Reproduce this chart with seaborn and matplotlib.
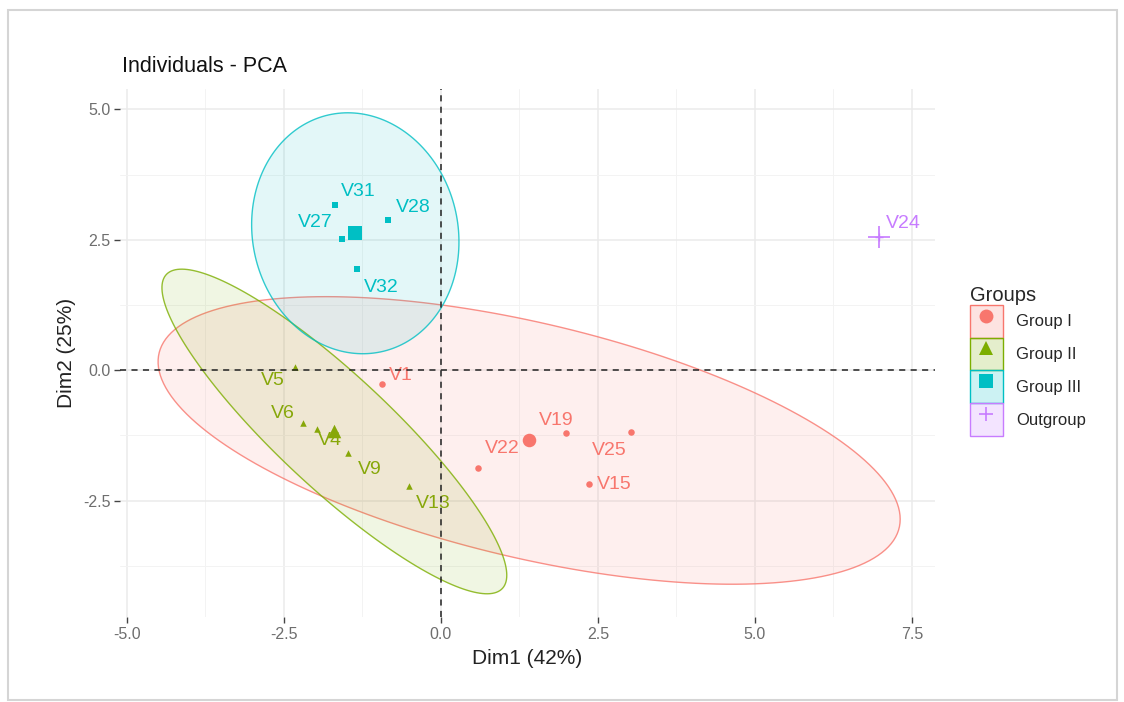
import numpy as np
import pandas as pd
import matplotlib
matplotlib.use("Agg")
import matplotlib.pyplot as plt
import seaborn as sns
from matplotlib.patches import Polygon, Patch, Rectangle
from matplotlib.lines import Line2D
from matplotlib.ticker import MultipleLocator, FormatStrFormatter
from matplotlib.colors import to_rgba

# individuals
names = ["V1", "V22", "V19", "V25", "V15",
         "V5", "V6", "V4", "V9", "V13",
         "V31", "V28", "V27", "V32",
         "V24"]
dim1 = [-0.94, 0.59, 1.99, 3.03, 2.36,
        -2.32, -2.20, -1.97, -1.48, -0.51,
        -1.69, -0.84, -1.58, -1.34,
        6.98]
dim2 = [-0.27, -1.87, -1.21, -1.19, -2.19,
        0.06, -1.02, -1.12, -1.58, -2.21,
        3.17, 2.87, 2.52, 1.94,
        2.55]
groups = ["Group I", "Group I", "Group I", "Group I", "Group I",
          "Group II", "Group II", "Group II", "Group II", "Group II",
          "Group III", "Group III", "Group III", "Group III",
          "Outgroup"]

group_order = ["Group I", "Group II", "Group III", "Outgroup"]
colors = ["#F8766D", "#7CAE00", "#00BFC4", "#C77CFF"]
markers = ["o", "^", "s", "+"]
palette = dict(zip(group_order, colors))

# label nudges in pixels (ggrepel-like placement)
label_nudge = {
    "V1": (19, 9), "V22": (24, 19), "V19": (-10, 13), "V25": (-22, -18), "V15": (25, 0),
    "V5": (-22, -13), "V6": (-20, 10), "V4": (13, -12), "V9": (22, -17), "V13": (24, -18),
    "V31": (24, 13), "V28": (25, 13), "V27": (-26, 16), "V32": (25, -18),
    "V24": (24, 14),
}

df = pd.DataFrame({"name": names, "Dim1": dim1, "Dim2": dim2, "Groups": groups})
centers = df.groupby("Groups", sort=False)[["Dim1", "Dim2"]].mean().reset_index()

sns.set_theme(style="white")
plt.rcParams["font.family"] = ["Liberation Sans", "DejaVu Sans"]

fig = plt.figure(figsize=(11.24, 7.02), dpi=100)
ax = fig.add_axes([120 / 1124, 1 - 617 / 702, 815 / 1124, 528 / 702])

for g, m, c in zip(group_order, markers, colors):
    sub = df[df["Groups"] == g]
    cen = centers[centers["Groups"] == g]
    if m == "+":
        ax.scatter(sub["Dim1"], sub["Dim2"], marker="+", s=40, color=c, linewidths=1.0, zorder=3)
        ax.scatter(cen["Dim1"], cen["Dim2"], marker="+", s=260, color=c, linewidths=1.2, zorder=4)
    else:
        # individual points
        sns.scatterplot(data=sub, x="Dim1", y="Dim2", marker=m, s=22, color=c,
                        linewidth=0, legend=False, ax=ax, zorder=3)
        # group mean
        sns.scatterplot(data=cen, x="Dim1", y="Dim2", marker=m, s=95, color=c,
                        linewidth=0, legend=False, ax=ax, zorder=4)

# point labels
for n, x, y, g in zip(names, dim1, dim2, groups):
    dx, dy = label_nudge[n]
    ax.annotate(n, (x, y), xytext=(dx, dy), textcoords="offset pixels",
                ha="center", va="center", fontsize=14, color=palette[g], zorder=5)

# normal-theory 95% ellipses like ggplot2::stat_ellipse(type = "norm")
t = np.linspace(0, 2 * np.pi, 200)
circle = np.column_stack([np.cos(t), np.sin(t)])
for g, c in zip(group_order, colors):
    pts = df.loc[df["Groups"] == g, ["Dim1", "Dim2"]].to_numpy()
    n = len(pts)
    if n < 3:
        continue
    cov = np.cov(pts.T)
    d2 = n - 1
    fq = (d2 / 2) * (0.05 ** (-2 / d2) - 1)  # F(0.95; 2, n-1)
    radius = np.sqrt(2 * fq)
    chol = np.linalg.cholesky(cov)
    ell = pts.mean(axis=0) + radius * circle @ chol.T
    ax.add_patch(Polygon(ell, closed=True, facecolor=to_rgba(c, 0.11),
                         edgecolor=to_rgba(c, 0.8), linewidth=1.0, zorder=6))

ax.axhline(0, color="#222222", linestyle=(0, (4, 3.5)), linewidth=1.1, zorder=7)
ax.axvline(0, color="#222222", linestyle=(0, (4, 3.5)), linewidth=1.1, zorder=7)

ax.set_xlim(-5.11, 7.87)
ax.set_ylim(-4.73, 5.39)
ax.xaxis.set_major_locator(MultipleLocator(2.5))
ax.xaxis.set_minor_locator(MultipleLocator(1.25))
ax.yaxis.set_major_locator(MultipleLocator(2.5))
ax.yaxis.set_minor_locator(MultipleLocator(1.25))
ax.xaxis.set_major_formatter(FormatStrFormatter("%.1f"))
ax.yaxis.set_major_formatter(FormatStrFormatter("%.1f"))
ax.grid(which="major", color="#EBEBEB", linewidth=1.1)
ax.grid(which="minor", color="#F3F3F3", linewidth=0.7)
ax.set_axisbelow(True)
for s in ax.spines.values():
    s.set_visible(False)
ax.tick_params(which="major", direction="out", length=4, width=1, color="#444444",
               labelsize=11.5, labelcolor="#6E6E6E", bottom=True, left=True, pad=3)
ax.tick_params(which="minor", length=0)

ax.set_xlabel("Dim1 (42%)", fontsize=15, color="#222222", labelpad=5)
ax.set_ylabel("Dim2 (25%)", fontsize=15, color="#222222", labelpad=5)
fig.text(122 / 1124, 1 - 67 / 702, "Individuals - PCA", fontsize=15.5, color="#111111",
         ha="left", va="center")

# legend: filled key box + marker
handles = []
for g, m, c in zip(group_order, markers, colors):
    box = Patch(facecolor=to_rgba(c, 0.2), edgecolor=c, linewidth=1.0)
    mk = Line2D([], [], marker=m, color=c, linestyle="none",
                markersize=10, markeredgewidth=1.2 if m == "+" else 0)
    handles.append((box, mk))
leg = ax.legend(handles, group_order, title="Groups", loc="center left",
                bbox_to_anchor=((970 - 120) / 815, 0.485), frameon=False,
                fontsize=12, title_fontsize=14.5, handlelength=1.95, handleheight=2.65,
                labelspacing=0.0, handletextpad=0.8, borderpad=0, borderaxespad=0,
                alignment="left")

# screenshot frame
fig.patches.append(Rectangle((8 / 1124, 1 - 700 / 702), 1109 / 1124, 690 / 702,
                             transform=fig.transFigure, fill=False,
                             edgecolor="#D5D5D5", linewidth=1.5))

fig.savefig("out.png", dpi=100)
